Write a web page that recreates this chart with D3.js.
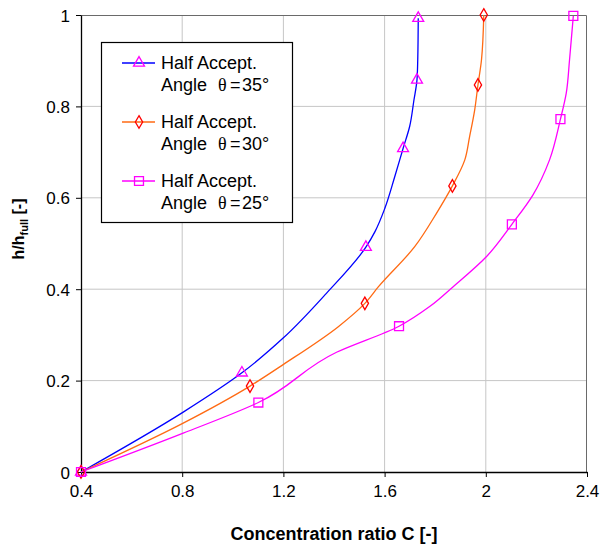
<!DOCTYPE html>
<html>
<head>
<meta charset="utf-8">
<script src="https://cdn.jsdelivr.net/npm/d3@7/dist/d3.min.js"></script>
<style>
  html, body { margin: 0; padding: 0; background: #fff; }
  svg { display: block; font-family: "Liberation Sans", Arial, sans-serif; }
</style>
</head>
<body>
<svg id="chart" width="601" height="546"></svg>
<script>
// Tick values
const xTicks = [0.4, 0.8, 1.2, 1.6, 2.0, 2.4];
const yTicks = [0, 0.2, 0.4, 0.6, 0.8, 1];

// Curve points (C, h/hfull)
const line35 = [
    [0.4, 0], [0.804, 0.131], [1.036, 0.217], [1.199, 0.293],
    [1.37, 0.391], [1.526, 0.492], [1.562, 0.526], [1.601, 0.577], [1.64, 0.646],
    [1.673, 0.708], [1.699, 0.756], [1.716, 0.814], [1.728, 0.858], [1.731, 0.902],
    [1.733, 0.993]
];
const line30 = [
    [0.4, 0], [0.804, 0.107], [1.068, 0.188], [1.199, 0.235], [1.417, 0.318],
    [1.522, 0.369], [1.575, 0.405], [1.719, 0.493], [1.805, 0.566], [1.868, 0.626],
    [1.917, 0.683], [1.936, 0.734], [1.956, 0.792], [1.969, 0.847], [1.983, 0.902],
    [1.992, 1.0]
];
const line25 = [
    [0.4, 0], [0.804, 0.085], [1.101, 0.152], [1.41, 0.262],
    [1.657, 0.319], [1.778, 0.362], [1.87, 0.405], [2.002, 0.471],
    [2.103, 0.542], [2.186, 0.606], [2.252, 0.683], [2.295, 0.772], [2.318, 0.829],
    [2.331, 0.902], [2.346, 0.998]
];

// Marker points
const marks35 = [[0.4, 0], [1.036, 0.217], [1.526, 0.492], [1.673, 0.708], [1.728, 0.858], [1.733, 0.993]];
const marks30 = [[0.4, 0], [1.068, 0.188], [1.522, 0.369], [1.868, 0.626], [1.969, 0.847], [1.992, 1.0]];
const marks25 = [[0.4, 0], [1.101, 0.152], [1.657, 0.319], [2.103, 0.542], [2.295, 0.772], [2.346, 0.998]];

const seriesNames = ["35°", "30°", "25°"];

const svg = d3.select("#chart");
const margin = { top: 15, right: 14, bottom: 74, left: 81 };
const width = 601 - margin.left - margin.right;
const height = 546 - margin.top - margin.bottom;

const x = d3.scaleLinear().domain([0.4, 2.4]).range([0, width]);
const y = d3.scaleLinear().domain([0, 1]).range([height, 0]);

const g = svg.append("g").attr("transform", `translate(${margin.left},${margin.top})`);

// Grid
g.append("g")
    .selectAll("line")
    .data(xTicks.slice(1, -1))
    .join("line")
    .attr("x1", d => x(d)).attr("x2", d => x(d))
    .attr("y1", 0).attr("y2", height)
    .attr("stroke", "#c6c6c6").attr("stroke-width", 1);
g.append("g")
    .selectAll("line")
    .data(yTicks.slice(1, -1))
    .join("line")
    .attr("x1", 0).attr("x2", width)
    .attr("y1", d => y(d)).attr("y2", d => y(d))
    .attr("stroke", "#c6c6c6").attr("stroke-width", 1);

// Frame top/right
g.append("path")
    .attr("d", `M0,0.5H${width - 0.5}V${height}`)
    .attr("fill", "none")
    .attr("stroke", "#6a6a6a");

// Axes
const fmt = d => d3.format("")(+d.toFixed(1));
const xAxis = g.append("g")
    .attr("transform", `translate(0,${height})`)
    .call(d3.axisBottom(x).tickValues(xTicks).tickSize(5).tickSizeOuter(0).tickFormat(fmt));
const yAxis = g.append("g")
    .call(d3.axisLeft(y).tickValues(yTicks).tickSize(5).tickSizeOuter(0).tickFormat(fmt));

[xAxis, yAxis].forEach(a => {
    a.select(".domain").attr("stroke", "#000").attr("stroke-width", 1.3);
    a.selectAll(".tick line").attr("stroke", "#000");
    a.selectAll(".tick text")
        .attr("fill", "#000")
        .style("font-family", "'Liberation Sans', Arial, sans-serif")
        .style("font-size", "17px");
});
xAxis.selectAll(".tick text").attr("y", 13).attr("dy", "0.71em");
yAxis.selectAll(".tick text").attr("x", -11).attr("dy", "0.36em");

// Curves
const lineGen = d3.line()
    .x(d => x(d[0]))
    .y(d => y(d[1]))
    .curve(d3.curveMonotoneY);
const series = [
    { pts: line35, marks: marks35, color: "#0000ff", mcolor: "#ff00ff", sym: d3.symbolTriangle, size: 52 },
    { pts: line30, marks: marks30, color: "#ff6a13", mcolor: "#ff0000", sym: d3.symbolDiamond, size: 46 },
    { pts: line25, marks: marks25, color: "#ff00ff", mcolor: "#ff00ff", sym: d3.symbolSquare, size: 80 }
];

series.forEach(s => {
    g.append("path")
        .datum(s.pts)
        .attr("d", lineGen)
        .attr("fill", "none")
        .attr("stroke", s.color)
        .attr("stroke-width", 1.3);
});
series.forEach(s => {
    g.append("g")
        .selectAll("path")
        .data(s.marks)
        .join("path")
        .attr("transform", d => `translate(${x(d[0])},${y(d[1])})`)
        .attr("d", d3.symbol().type(s.sym).size(s.size))
        .attr("fill", "none")
        .attr("stroke", s.mcolor)
        .attr("stroke-width", 1.3);
});

// Legend
const legend = svg.append("g").attr("transform", "translate(101,42)");
legend.append("rect")
    .attr("x", 0.5).attr("y", 0.5)
    .attr("width", 191).attr("height", 180)
    .attr("fill", "#fff").attr("stroke", "#000").attr("stroke-width", 1.2);

series.forEach((s, i) => {
    const row = legend.append("g").attr("transform", `translate(0,${21 + i * 59})`);
    row.append("line")
        .attr("x1", 21).attr("x2", 54)
        .attr("stroke", s.color).attr("stroke-width", 1.3);
    row.append("path")
        .attr("transform", "translate(38,0)")
        .attr("d", d3.symbol().type(s.sym).size(s.size))
        .attr("fill", "none")
        .attr("stroke", s.mcolor)
        .attr("stroke-width", 1.3);
    const t = row.append("text")
        .attr("fill", "#000")
        .style("font-size", "18px");
    t.append("tspan").attr("x", 60).attr("y", 6).text("Half Accept.");
    t.append("tspan").attr("x", 60).attr("y", 28).text("Angle");
    t.append("tspan").attr("x", 117).attr("y", 28)
        .style("font-family", "'Liberation Serif', serif").text("θ");
    t.append("tspan").attr("x", 129).attr("y", 28).text("=");
    t.append("tspan").attr("x", 141).attr("y", 28).text(seriesNames[i]);
});

// Axis titles
svg.append("text")
    .attr("x", margin.left + width / 2)
    .attr("y", 540)
    .attr("text-anchor", "middle")
    .style("font-size", "18px")
    .style("font-weight", "bold")
    .text("Concentration ratio C [-]");

const yt = svg.append("text")
    .attr("transform", "translate(24,229) rotate(-90)")
    .attr("text-anchor", "middle")
    .style("font-size", "16px")
    .style("font-weight", "bold");
yt.append("tspan").text("h/h");
yt.append("tspan").attr("dy", 4).style("font-size", "11px").text("full");
yt.append("tspan").attr("dy", -4).text(" [-]");
</script>
</body>
</html>
